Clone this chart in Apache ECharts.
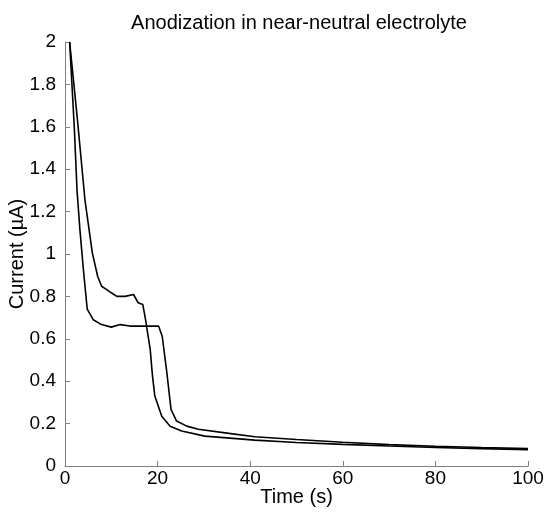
<!DOCTYPE html>
<html>
<head>
<meta charset="utf-8">
<script src="https://cdn.jsdelivr.net/npm/echarts@6/dist/echarts.min.js"></script>
<style>
  html, body { margin: 0; padding: 0; background: #fff; }
  #main { width: 547px; height: 513px; }
</style>
</head>
<body>
<div id="main"></div>
<script>
// run 1: lower plateau, late drop
var timeA = [1, 2, 2.6, 3.2, 4, 4.8, 6.1, 7.9, 10, 11.9, 14, 17, 20.2, 21, 22, 22.9, 24.1, 26.3, 28.8, 35, 41, 50, 60, 70, 80, 90, 100];
var currentA = [2.0, 1.6, 1.3, 1.12, 0.92, 0.74, 0.69, 0.667, 0.655, 0.667, 0.66, 0.66, 0.66, 0.612, 0.44, 0.267, 0.212, 0.188, 0.173, 0.155, 0.138, 0.125, 0.112, 0.101, 0.093, 0.087, 0.082];

// run 2: higher plateau, early drop
var timeB = [1, 2.7, 4.3, 5.9, 7.05, 7.9, 9, 10, 11.2, 13, 14.8, 15.8, 16.8, 17.4, 18.4, 18.9, 19.4, 20.9, 22.7, 25.2, 30.2, 41, 50, 60, 70, 80, 90, 100];
var currentB = [2.0, 1.63, 1.257, 1.005, 0.895, 0.848, 0.832, 0.817, 0.80, 0.80, 0.809, 0.77, 0.762, 0.69, 0.55, 0.424, 0.33, 0.235, 0.188, 0.165, 0.141, 0.122, 0.111, 0.102, 0.094, 0.087, 0.082, 0.077];

var xTicks = [0, 20, 40, 60, 80, 100];
var yTicks = [0, 0.2, 0.4, 0.6, 0.8, 1, 1.2, 1.4, 1.6, 1.8, 2];

function pairs(xs, ys) {
    return xs.map(function (x, i) { return [x, ys[i]]; });
}

var chart = echarts.init(document.getElementById('main'), null, { renderer: 'canvas' });

var font = 'Liberation Sans, Arial, sans-serif';

var option = {
    animation: false,
    title: {
        text: 'Anodization in near-neutral electrolyte',
        left: 294,
        top: 8,
        textAlign: 'center',
        textStyle: { fontFamily: font, fontSize: 20, fontWeight: 'normal', color: '#000' }
    },
    grid: { left: 65, right: 19, top: 42, bottom: 47, containLabel: false, outerBoundsMode: 'none' },
    xAxis: {
        type: 'value',
        min: xTicks[0],
        max: xTicks[xTicks.length - 1],
        interval: 20,
        name: 'Time (s)',
        nameLocation: 'middle',
        nameGap: 21,
        nameMoveOverlap: false,
        nameTextStyle: { fontFamily: font, fontSize: 20, color: '#000' },
        axisLine: { lineStyle: { color: '#808080', width: 1 } },
        axisTick: { inside: true, length: 5, lineStyle: { color: '#808080' } },
        axisLabel: { fontFamily: font, fontSize: 19, color: '#000', margin: 3 },
        splitLine: { show: false }
    },
    yAxis: {
        type: 'value',
        min: yTicks[0],
        max: yTicks[yTicks.length - 1],
        interval: 0.2,
        name: 'Current (\u00b5A)',
        nameLocation: 'middle',
        nameGap: 38,
        nameMoveOverlap: false,
        nameTextStyle: { fontFamily: font, fontSize: 20, color: '#000' },
        axisLine: { show: true, lineStyle: { color: '#808080', width: 1 } },
        axisTick: { show: true, inside: true, length: 5, lineStyle: { color: '#808080' } },
        axisLabel: { fontFamily: font, fontSize: 19, color: '#000', margin: 9 },
        splitLine: { show: false }
    },
    series: [
        {
            type: 'line',
            data: pairs(timeA, currentA),
            showSymbol: false,
            lineStyle: { color: '#000', width: 1.6 }
        },
        {
            type: 'line',
            data: pairs(timeB, currentB),
            showSymbol: false,
            lineStyle: { color: '#000', width: 1.6 }
        }
    ]
};

chart.setOption(option);
</script>
</body>
</html>
